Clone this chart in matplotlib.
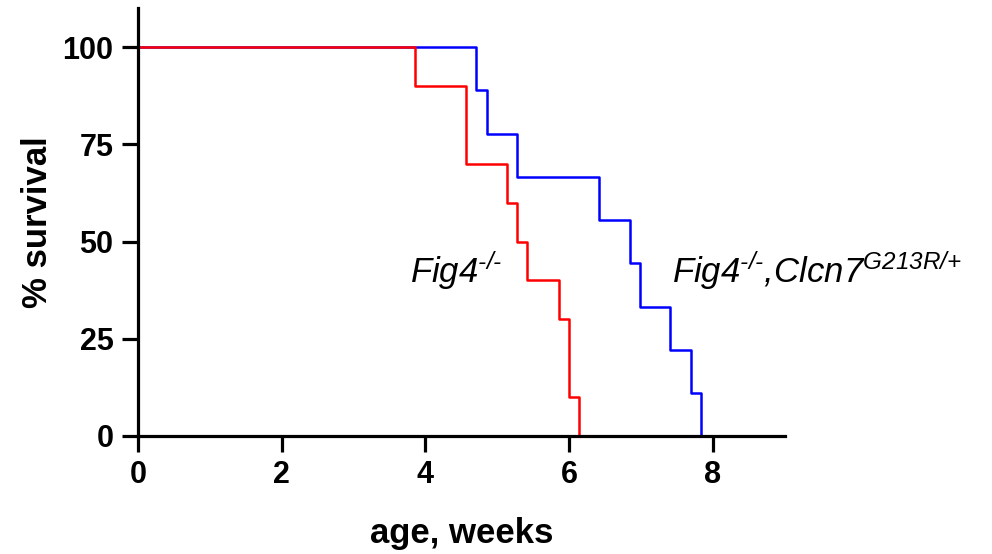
import matplotlib
matplotlib.use("Agg")
import matplotlib.pyplot as plt

plt.rcParams['font.family'] = ['Liberation Sans', 'DejaVu Sans']
plt.rcParams['mathtext.fontset'] = 'custom'
plt.rcParams['mathtext.it'] = 'Liberation Sans:italic'
plt.rcParams['mathtext.rm'] = 'Liberation Sans:italic'
plt.rcParams['mathtext.default'] = 'it'

# Kaplan-Meier step data (weeks, % survival)
fig4_t = [0, 3.85, 4.57, 5.14, 5.28, 5.41, 5.86, 6.00, 6.14]
fig4_s = [100, 90, 70, 60, 50, 40, 30, 10, 0]
dbl_t = [0, 4.71, 4.86, 5.28, 6.41, 6.85, 6.99, 7.41, 7.69, 7.84]
dbl_s = [100, 88.9, 77.8, 66.7, 55.6, 44.4, 33.3, 22.2, 11.1, 0]

x_ticks = [0, 2, 4, 6, 8]
y_ticks = [0, 25, 50, 75, 100]

fig = plt.figure(figsize=(9.92, 5.54), dpi=100)
ax = fig.add_axes([0.139, 0.213, 0.652, 0.772])

ax.plot(dbl_t, dbl_s, drawstyle='steps-post', color='#0000FF', lw=1.8, clip_on=False)
ax.plot(fig4_t, fig4_s, drawstyle='steps-post', color='#FF0000', lw=1.8, clip_on=False)

ax.set_xlim(0, 9)
ax.set_ylim(0, 110)
ax.set_xticks(x_ticks)
ax.set_yticks(y_ticks)
for sp in ['top', 'right']:
    ax.spines[sp].set_visible(False)
for sp in ['left', 'bottom']:
    ax.spines[sp].set_linewidth(2.3)
ax.tick_params(direction='out', length=11.5, width=2.3, pad=6,
               labelsize=22)
for lab in ax.get_xticklabels() + ax.get_yticklabels():
    lab.set_fontweight('bold')

ax.set_xlabel('age, weeks', fontsize=25, fontweight='bold', labelpad=19)
ax.set_ylabel('% survival', fontsize=25, fontweight='bold', labelpad=6)

ax.text(3.78, 42.5, r'$Fig4^{\text{-/-}}$', fontsize=25, va='center', ha='left')
ax.text(7.43, 42.5, r'$Fig4^{\text{-/-}}{,}Clcn7^{\text{G213R/+}}$', fontsize=25,
        va='center', ha='left', clip_on=False)

fig.savefig('out.png', dpi=100)
